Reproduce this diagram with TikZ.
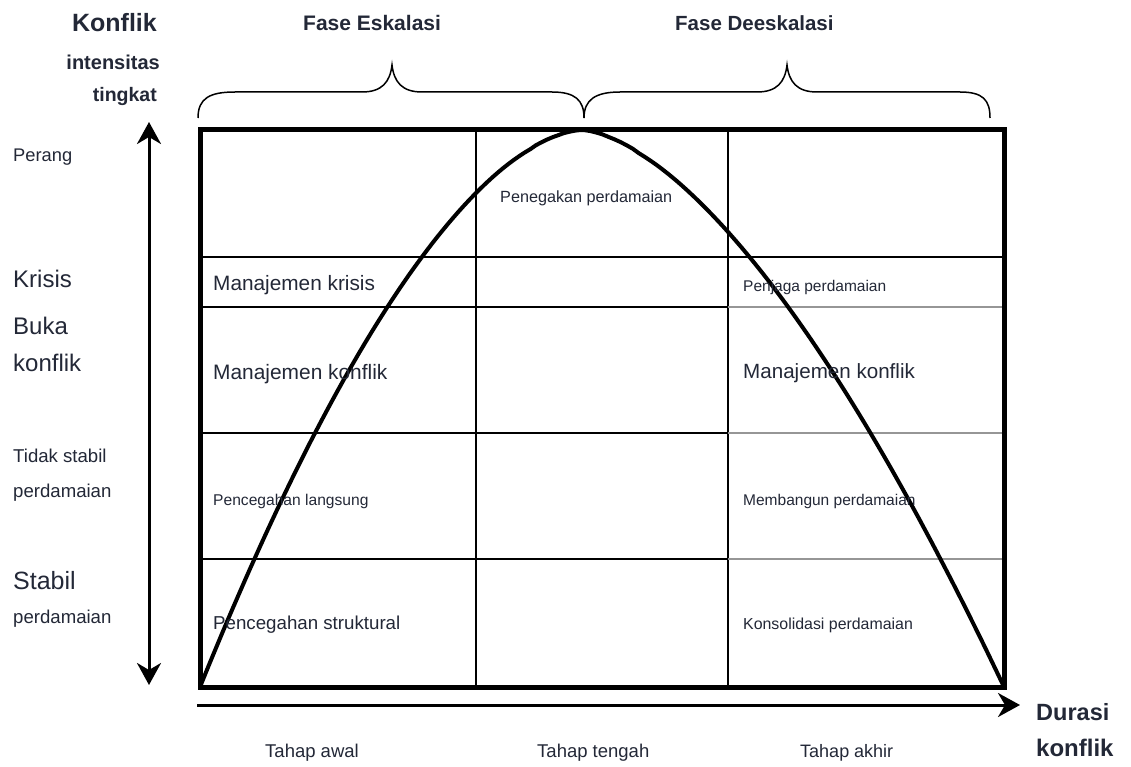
\documentclass[tikz,border=0pt]{standalone}
\usepackage{fontspec}
\setmainfont{Liberation Sans}
\usetikzlibrary{arrows.meta}
\definecolor{txt}{RGB}{35,40,55}
\definecolor{lightline}{RGB}{150,150,150}
\newcommand{\fsz}[1]{\fontsize{#1}{#1}\selectfont}
\begin{document}
\begin{tikzpicture}[x=1pt,y=-1pt,
  lbl/.style={inner sep=0pt, text=txt, anchor=base west},
  rlbl/.style={inner sep=0pt, text=txt, anchor=base east},
  gridthick/.style={line width=2.5pt},
  gridthin/.style={line width=1.5pt},
  gridgray/.style={line width=1.2pt, draw=lightline},
  bracestyle/.style={line width=1.5pt},
  arrowstyle/.style={line width=3pt},
  tip/.tip={Stealth[length=22pt,width=24pt,inset=7pt]}
]
\useasboundingbox (0,0) rectangle (1131,767);
\fill[white] (0,0) rectangle (1131,767);

% grid lines
\draw[gridthin] (476,130) -- (476,687);
\draw[gridthick] (728,130) -- (728,687);
\draw[gridthick] (200,257) -- (1004,257);
\draw[gridthin] (200,307) -- (728,307);
\draw[gridgray] (728,307) -- (1004,307);
\draw[gridthick] (200,433) -- (728,433);
\draw[gridgray] (728,433) -- (1004,433);
\draw[gridthick] (200,559) -- (728,559);
\draw[gridgray] (728,559) -- (1004,559);

% outer box
\draw[line width=5pt] (200,130) rectangle (1004,687);

% curve
\draw[line width=4pt, line join=round]
  plot[domain=1:0.005, samples=70] ({582-382*\x},{130+557*(\x)^1.7})
  -- plot[domain=0.005:1, samples=70] ({582+422*\x},{130+557*(\x)^1.6});

% braces
\draw[bracestyle] (198,118) .. controls (198,98) and (210,92) .. (235,92)
  -- (362,92) .. controls (382,92) and (390,82) .. (392,65)
  .. controls (394,82) and (402,92) .. (422,92)
  -- (552,92) .. controls (575,92) and (584,100) .. (584,118);
\draw[bracestyle] (584,118) .. controls (584,100) and (595,92) .. (620,92)
  -- (757,92) .. controls (777,92) and (785,82) .. (787,65)
  .. controls (789,82) and (797,92) .. (817,92)
  -- (960,92) .. controls (983,92) and (990,100) .. (990,118);

% axes arrows
\coordinate (vtop) at (149,122);
\coordinate (vbot) at (149,685);
\draw[arrowstyle, tip-tip] (vbot) -- (vtop);
\coordinate (hstart) at (197,705);
\coordinate (hend) at (1020,705);
\draw[arrowstyle, -tip] (hstart) -- (hend);

% header texts
\node[rlbl, font=\fsz{25}\bfseries] (konflikT) at (157,32) {Konflik};
\node[rlbl, font=\fsz{20}\bfseries] (intens) at (160,70) {intensitas};
\node[rlbl, font=\fsz{19.5}\bfseries] (tingkat) at (157,102) {tingkat};
\node[lbl, font=\fsz{21}\bfseries] (eskal) at (303,31) {Fase Eskalasi};
\node[lbl, font=\fsz{20.5}\bfseries] (deeskal) at (675,31) {Fase Deeskalasi};

% left axis labels
\node[lbl, font=\fsz{18.3}] (perang) at (13,162) {Perang};
\node[lbl, font=\fsz{24}] (krisis) at (13,287) {Krisis};
\node[lbl, font=\fsz{24}] (buka) at (13,334) {Buka};
\node[lbl, font=\fsz{24}] (bkonf) at (13,371) {konflik};
\node[lbl, font=\fsz{18.6}] (tidak) at (13,462) {Tidak stabil};
\node[lbl, font=\fsz{18.6}] (perd1) at (13,497) {perdamaian};
\node[lbl, font=\fsz{25}] (stabil) at (13,589) {Stabil};
\node[lbl, font=\fsz{18.6}] (perd2) at (13,623) {perdamaian};

% cell labels
\node[lbl, font=\fsz{20.8}] (mkris) at (213,290.5) {Manajemen krisis};
\node[lbl, font=\fsz{20.9}] (mkonfL) at (213,379.5) {Manajemen konflik};
\node[lbl, font=\fsz{15.6}] (plang) at (213,505.6) {Pencegahan langsung};
\node[lbl, font=\fsz{18.7}] (pstruk) at (213,629.7) {Pencegahan struktural};
\node[lbl, font=\fsz{16.2}] (peneg) at (500,203) {Penegakan perdamaian};
\node[lbl, font=\fsz{15.5}] (penj) at (743,291.5) {Penjaga perdamaian};
\node[lbl, font=\fsz{20.6}] (mkonfR) at (743,378.5) {Manajemen konflik};
\node[lbl, font=\fsz{15.5}] (memb) at (743,505.5) {Membangun perdamaian};
\node[lbl, font=\fsz{15.9}] (kons) at (743,629.7) {Konsolidasi perdamaian};

% bottom labels
\node[lbl, font=\fsz{18.5}] (awal) at (265,757) {Tahap awal};
\node[lbl, font=\fsz{18.5}] (tengah) at (537,757) {Tahap tengah};
\node[lbl, font=\fsz{18}] (akhir) at (800,757) {Tahap akhir};
\node[lbl, font=\fsz{23.5}\bfseries] (durasi) at (1036,720) {Durasi};
\node[lbl, font=\fsz{24}\bfseries] (dkonf) at (1036,756) {konflik};
\end{tikzpicture}
\end{document}
